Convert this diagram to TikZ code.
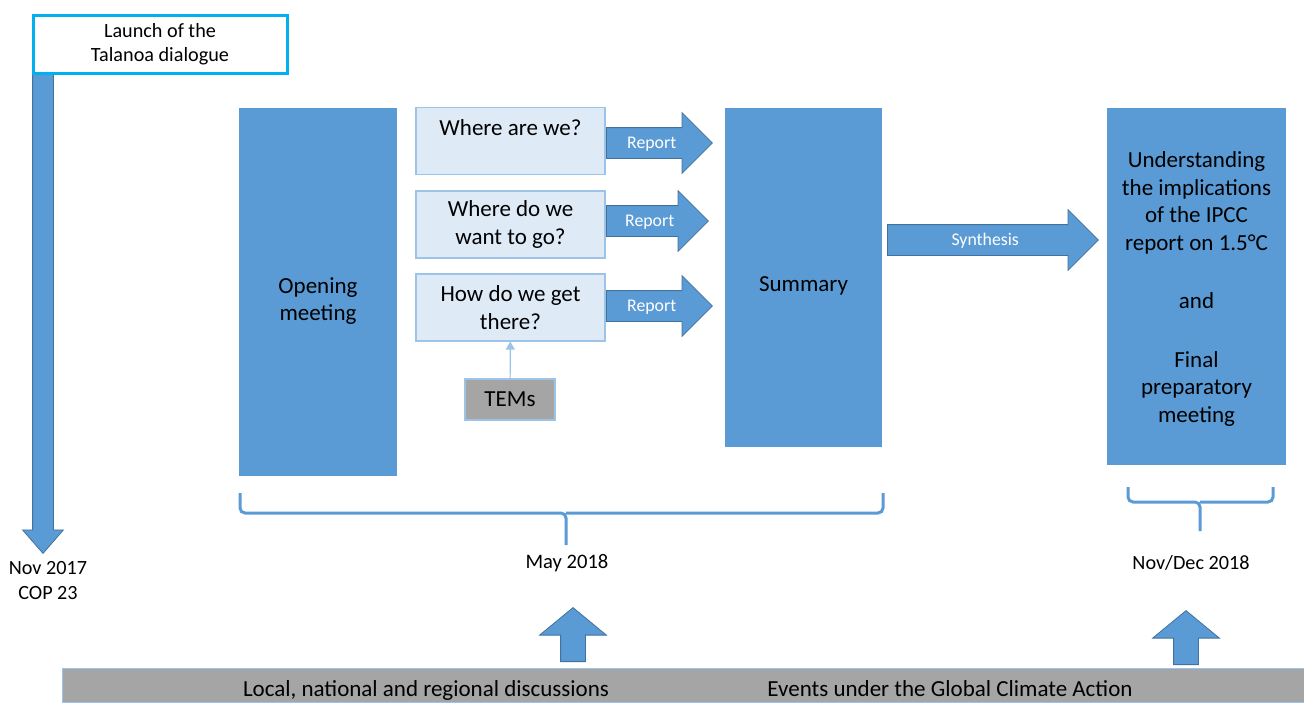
\documentclass[tikz,border=0pt]{standalone}
\usepackage{fontspec}
\setmainfont{Carlito}
\usetikzlibrary{arrows.meta,positioning,shapes.arrows}
\definecolor{talblue}{HTML}{5B9BD5}
\definecolor{talpale}{HTML}{DEEBF7}
\definecolor{taledge}{HTML}{9DC3E6}
\definecolor{taldark}{HTML}{41719C}
\definecolor{talgrey}{HTML}{A5A5A5}
\definecolor{talcyan}{HTML}{00B0F0}

\begin{document}
\begin{tikzpicture}[x=0.5pt, y=-0.5pt, every node/.style={font=\fontsize{11.5pt}{13.75pt}\selectfont, align=center, inner sep=0pt},
  every label/.style={font=\fontsize{11.5pt}{13.75pt}\selectfont, align=center, inner sep=0pt},
  bigbox/.style={rectangle, fill=talblue, minimum width=#1},
  question/.style={rectangle, draw=taledge, line width=0.6pt, fill=talpale, minimum width=94.5pt, minimum height=33.5pt},
  fatarrow/.style={single arrow, fill=talblue, draw=taldark, line width=0.4pt, text=white, font=\fontsize{8.9pt}{10pt}\selectfont,
    text height=6.2pt, text depth=0.8pt, inner ysep=4pt, minimum width=30pt, single arrow head extend=7.5pt, anchor=tail},
  uparrow/.style={single arrow, fill=talblue, draw=taldark, line width=0.4pt, minimum width=33pt, inner sep=6pt,
    single arrow head extend=10.5pt, single arrow tip angle=101, minimum height=27pt, shape border rotate=90, anchor=tail},
  bracket/.style={draw=talblue, line width=1.5pt, rounded corners=2.5pt}]
\useasboundingbox (0,0) rectangle (1304,702);

% timeline start
\node[single arrow, fill=talblue, draw=taldark, line width=0.4pt, minimum width=20pt, inner sep=5pt, single arrow head extend=5pt,
  single arrow tip angle=82, minimum height=240pt, shape border rotate=270, anchor=tail] (start) at (43,73) {};
\node[rectangle, draw=talcyan, line width=1.5pt, fill=white, minimum width=127pt, minimum height=29pt,
  font=\fontsize{10.1pt}{12pt}\selectfont] (launch) at (160,44) {Launch of the\\Talanoa dialogue};
\node[font=\fontsize{10.1pt}{12.5pt}\selectfont] (cop) at (48,581) {Nov 2017\\COP 23};

% May 2018 session
\node[bigbox=79pt, minimum height=184pt, label={[yshift=-4.5pt]center:Opening\\meeting}] (opening) at (318,292) {};
\node[question] (where) at (510.5,141) {Where are we?\\~};
\node[question] (want) at (510.5,224.5) {Where do we\\want to go?};
\node[question] (how) at (510.5,307.5) {How do we get\\there?};
\node[rectangle, draw=taledge, line width=0.6pt, fill=talgrey, minimum width=45pt, minimum height=20.5pt] (tems) at (510,399.5) {TEMs};
\draw[-{Triangle[length=4pt,width=4.5pt]}, taledge, line width=0.6pt] (tems) -- (how);
\node[fatarrow, minimum height=53pt] (rep1) at (606,143) {Report};
\node[fatarrow, minimum height=51pt] (rep2) at (606,221) {Report};
\node[fatarrow, minimum height=53pt] (rep3) at (606,306) {Report};
\node[bigbox=78.5pt, minimum height=169.5pt, label={[yshift=-4.25pt]center:Summary}] (summary) at (803.5,277.5) {};

% final session
\node[fatarrow, minimum height=105.5pt] (synth) at (887,240) {Synthesis};
\node[bigbox=89.5pt, minimum height=178.5pt, label={[yshift=-1.25pt]center:Understanding\\the implications\\of the IPCC\\report on 1.5°C\\[15.5pt]and\\[15.5pt]Final\\preparatory\\meeting}] (final) at (1196.5,286.5) {};

% brackets and dates
\coordinate (maytip) at (566,545);
\coordinate (novtip) at (1200,531);
\draw[bracket] (240,493) |- (566,513) -- (maytip);
\draw[bracket] (883,493) |- (566,513);
\draw[bracket] (1128,487) |- (1200,502) -- (novtip);
\draw[bracket] (1273,487) |- (1200,502);
\node[font=\fontsize{10.3pt}{12.5pt}\selectfont] (may) at (567,563) {May 2018};
\node[font=\fontsize{10.1pt}{12.5pt}\selectfont] (nov) at (1191,563) {Nov/Dec 2018};

% ongoing activities
\node[rectangle, fill=talgrey, draw=taledge, line width=0.4pt, minimum width=621pt, minimum height=17pt, anchor=north west] (bar) at (62,668) {};
\node[anchor=base] (local) at (426,696) {Local, national and regional discussions};
\node[anchor=base] (events) at (950,696) {Events under the Global Climate Action};
\node[uparrow] (up1) at (573,662) {};
\node[uparrow] (up2) at (1186,665) {};
\end{tikzpicture}
\end{document}
